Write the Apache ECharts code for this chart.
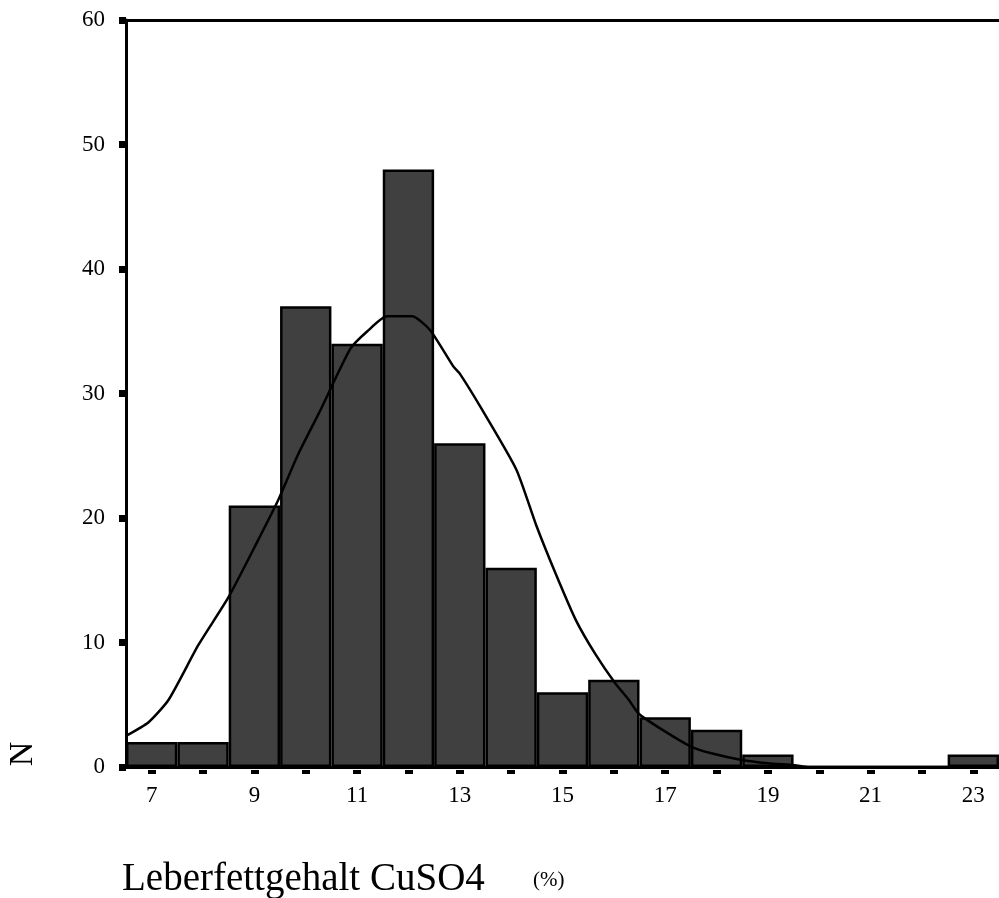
<!DOCTYPE html>
<html>
<head>
<meta charset="utf-8">
<script src="https://cdn.jsdelivr.net/npm/echarts@6/dist/echarts.min.js"></script>
<style>
html,body{margin:0;padding:0;background:#fff;}
#chart{width:999px;height:898px;}
</style>
</head>
<body>
<div id="chart"></div>
<script>
// Histogram bins (bin centres) and counts
const binLabels = ['7','8','9','10','11','12','13','14','15','16','17','18','19','20','21','22','23'];
const counts    = [2, 2, 21, 37, 34, 48, 26, 16, 6, 7, 4, 3, 1, 0, 0, 0, 1];
// Normal curve
const curveX = [6.5, 6.94, 7.33, 7.91, 8.49, 9.07, 9.46, 9.85, 10.29, 10.87, 11.2, 11.58, 12.07, 12.42, 12.87, 13.0, 13.42, 14.1, 14.49, 14.88, 15.26, 15.65, 16.03, 16.29, 16.48, 16.94, 17.52, 17.9, 18.49, 19.0, 19.52, 19.8, 23.5];
const curveY = [2.5, 3.6, 5.4, 9.8, 13.6, 18.2, 21.4, 25.1, 28.7, 33.6, 35.0, 36.2, 36.2, 35.1, 32.2, 31.6, 28.8, 23.9, 19.4, 15.4, 11.8, 9.0, 6.7, 5.4, 4.3, 3.0, 1.6, 1.1, 0.56, 0.3, 0.15, 0, 0];
const yTicks = [0, 10, 20, 30, 40, 50, 60];
const yTitle = 'N';
const xTitle = 'Leberfettgehalt CuSO4';
const xUnit = '(%)';

const FONT = '"Liberation Serif", "DejaVu Serif", serif';
const chart = echarts.init(document.getElementById('chart'), null, {renderer: 'canvas'});

chart.setOption({
  animation: false,
  backgroundColor: '#fff',
  grid: {left: 126, top: 20, width: 880, height: 747},
  xAxis: [
    {
      type: 'category', data: binLabels, position: 'bottom',
      axisLine: {show: true, lineStyle: {color: '#000', width: 3}},
      axisTick: {show: false},
      axisLabel: {interval: 1, color: '#000', fontFamily: FONT, fontSize: 23, margin: 17}
    },
    {
      type: 'value', min: 6.5, max: 23.5, show: false
    },
    {
      type: 'category', data: binLabels, position: 'top',
      axisLine: {show: true, lineStyle: {color: '#000', width: 3}},
      axisTick: {show: false}, axisLabel: {show: false}
    },
    {
      type: 'category', data: binLabels, position: 'bottom', offset: 3,
      axisLine: {show: false},
      axisTick: {show: true, alignWithLabel: true, interval: 0, length: 4, lineStyle: {color: '#000', width: 8}},
      axisLabel: {show: false}
    }
  ],
  yAxis: {
    type: 'value', min: yTicks[0], max: yTicks[yTicks.length - 1], interval: 10,
    axisLine: {show: true, lineStyle: {color: '#000', width: 3}},
    axisTick: {show: true, length: 7, lineStyle: {color: '#000', width: 7}},
    axisLabel: {color: '#000', fontFamily: FONT, fontSize: 23, margin: 21},
    splitLine: {show: false}
  },
  series: [
    {
      type: 'bar', xAxisIndex: 0, data: counts,
      barCategoryGap: '0%',
      itemStyle: {color: '#404040', borderColor: '#000', borderWidth: 2.5},
      z: 2
    },
    {
      type: 'line', xAxisIndex: 1,
      data: curveX.map((x, i) => [x, curveY[i]]),
      smooth: 0.2, showSymbol: false, symbol: 'none',
      lineStyle: {color: '#000', width: 2.5},
      z: 3
    }
  ],
  graphic: [
    {
      type: 'text', x: 23, y: 754, rotation: Math.PI / 2,
      style: {text: yTitle, font: '34px ' + FONT, fill: '#000', textAlign: 'center', textVerticalAlign: 'middle'}
    },
    {
      type: 'text', x: 122, y: 880,
      style: {text: xTitle, font: '39px ' + FONT, fill: '#000', textAlign: 'left', textVerticalAlign: 'middle'}
    },
    {
      type: 'text', x: 533, y: 880,
      style: {text: xUnit, font: '21px ' + FONT, fill: '#000', textAlign: 'left', textVerticalAlign: 'middle'}
    }
  ]
});
</script>
</body>
</html>
